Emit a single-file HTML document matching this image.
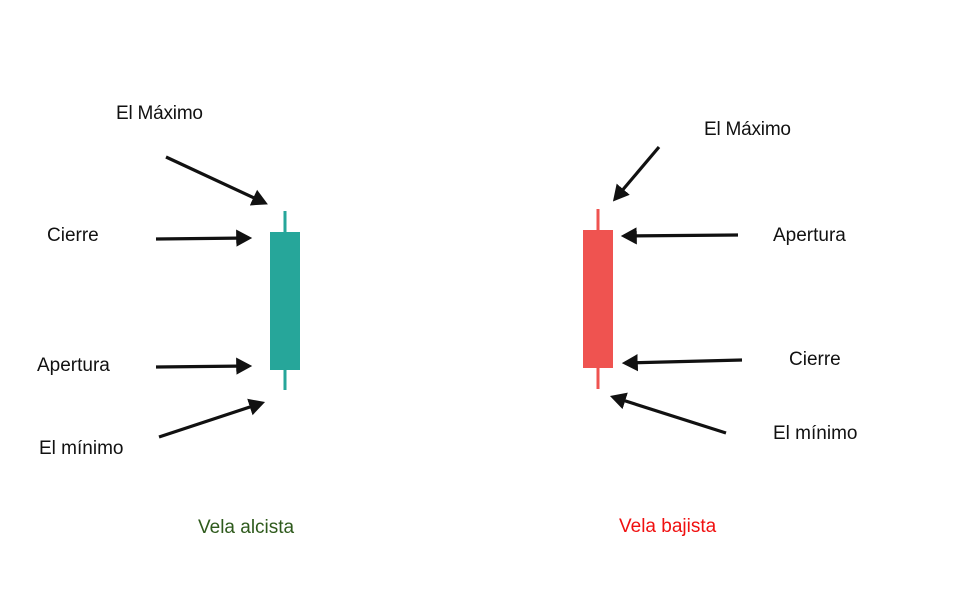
<!DOCTYPE html>
<html><head><meta charset="utf-8"><style>
html,body{margin:0;padding:0;background:#fff;}
svg{display:block}
text{font-family:"Liberation Sans",sans-serif;font-size:19px;fill:#111;dominant-baseline:middle}
</style></head><body>
<svg width="955" height="594" viewBox="0 0 955 594" xmlns="http://www.w3.org/2000/svg">
<defs><marker id="a" markerWidth="6" markerHeight="6" refX="4" refY="3" orient="auto" markerUnits="strokeWidth"><path d="M0,0.3 L5,3 L0,5.7 Z" fill="#111"/></marker></defs>
<g stroke="#111" stroke-width="3.2" marker-end="url(#a)">
<line x1="166" y1="157" x2="265" y2="203"/>
<line x1="156" y1="239" x2="249" y2="238"/>
<line x1="156" y1="367" x2="249" y2="366"/>
<line x1="159" y1="437" x2="262" y2="403"/>
<line x1="659" y1="147" x2="615" y2="199"/>
<line x1="738" y1="235" x2="624" y2="236"/>
<line x1="742" y1="360" x2="625" y2="363"/>
<line x1="726" y1="433" x2="613" y2="397"/>
</g>
<line x1="285" y1="211" x2="285" y2="390" stroke="#26a69a" stroke-width="3"/>
<rect x="270" y="232" width="30" height="138" fill="#26a69a"/>
<line x1="598" y1="209" x2="598" y2="389" stroke="#ef5350" stroke-width="3"/>
<rect x="583" y="230" width="30" height="138" fill="#ef5350"/>
<text x="116" y="114" textLength="87">El Máximo</text>
<text x="47" y="236">Cierre</text>
<text x="37" y="366">Apertura</text>
<text x="39" y="449">El mínimo</text>
<text x="704" y="130" textLength="87">El Máximo</text>
<text x="773" y="236">Apertura</text>
<text x="789" y="360">Cierre</text>
<text x="773" y="434">El mínimo</text>
<text x="198" y="528" style="fill:#2e5a1c">Vela alcista</text>
<text x="619" y="527" style="fill:#f01010">Vela bajista</text>
</svg>
</body></html>
